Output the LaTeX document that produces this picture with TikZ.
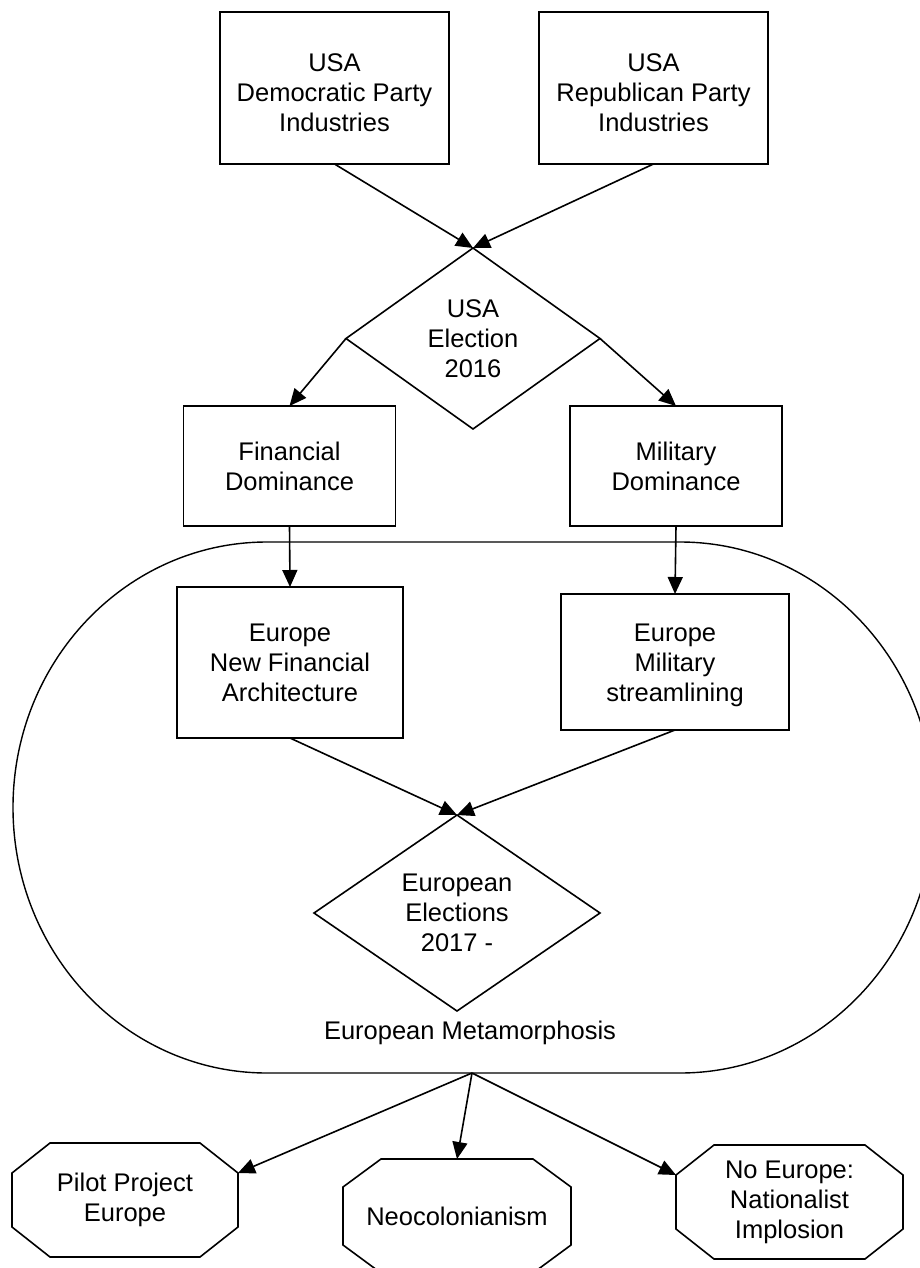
\documentclass[tikz,border=0pt]{standalone}
\usepackage{fontspec}
\setmainfont{Liberation Sans}
\usetikzlibrary{arrows.meta}
\tikzset{
  lbl/.style={font=\fontsize{25.5}{30}\selectfont, align=center},
  boxnode/.style={lbl, draw, line width=1.6pt, inner sep=0pt, outer sep=0pt},
  ghost/.style={lbl, inner sep=0pt, outer sep=0pt},
  shapeline/.style={line width=1.6pt, line join=miter},
  conn/.style={line width=1.6pt, -{Triangle[length=17pt, width=15pt]}},
}
\newcommand{\drawdiam}[1]{\draw[shapeline] (#1.north) -- (#1.east) -- (#1.south) -- (#1.west) -- cycle;}
\newcommand{\drawocta}[2]{\draw[shapeline] ([xshift=38pt]#1.north west) -- ([xshift=-38pt]#1.north east) -- ([yshift=-#2]#1.north east) -- ([yshift=#2]#1.south east) -- ([xshift=-38pt]#1.south east) -- ([xshift=38pt]#1.south west) -- ([yshift=#2]#1.south west) -- ([yshift=-#2]#1.north west) -- cycle;}
\begin{document}
\begin{tikzpicture}[x=1pt, y=-1pt]
\useasboundingbox (0,0) rectangle (920,1268);
\clip (0,0) rectangle (920,1268);
\fill[white] (0,0) rectangle (920,1268);

% big rounded container
\draw[line width=1.4pt] (267,542) -- (680,542)
  .. controls (820.3,542) and (934,660.9) .. (934,807.5)
  .. controls (934,954.1) and (820.3,1073) .. (680,1073)
  -- (267,1073)
  .. controls (126.7,1073) and (13,954.1) .. (13,807.5)
  .. controls (13,660.9) and (126.7,542) .. (267,542) -- cycle;
\coordinate (metabot) at (472,1073);
\node[lbl] (meta) at (470,1033) {European Metamorphosis};

% top boxes
\node[boxnode, minimum width=229, minimum height=152] (dem) at (334.5,88) {\rule{0pt}{28pt}USA\\Democratic Party\\Industries};
\node[boxnode, minimum width=229, minimum height=152] (rep) at (653.5,88) {\rule{0pt}{28pt}USA\\Republican Party\\Industries};

% USA election diamond
\node[ghost, minimum width=254, minimum height=181] (usael) at (473,338.5) {USA\\Election\\2016};
\drawdiam{usael}

% dominance boxes
\node[boxnode, minimum width=212, minimum height=120] (fin) at (289.5,466) {Financial\\Dominance};
\node[boxnode, minimum width=212, minimum height=120] (mil) at (676,466) {Military\\Dominance};

% europe boxes
\node[boxnode, minimum width=226, minimum height=151] (efin) at (290,662.5) {Europe\\New Financial\\Architecture};
\node[boxnode, minimum width=228, minimum height=136] (emil) at (675,662) {\rule{0pt}{24pt}Europe\\Military\\streamlining};

% European elections diamond
\node[ghost, minimum width=286, minimum height=196] (euel) at (457,913) {European\\Elections\\2017 -};
\drawdiam{euel}

% outcome octagons
\node[ghost, minimum width=226, minimum height=114] (pilot) at (125,1200) {Pilot Project\\Europe};
\drawocta{pilot}{30pt}
\node[ghost, minimum width=228, minimum height=114] (neo) at (457,1216) {Neocolonianism};
\drawocta{neo}{28pt}
\node[ghost, minimum width=227, minimum height=114] (noeu) at (789.5,1202) {No Europe:\\Nationalist\\Implosion};
\drawocta{noeu}{30pt}

% connectors
\draw[conn] (dem.south) -- (usael.north);
\draw[conn] (rep.south) -- (usael.north);
\draw[conn] (usael.west) -- (fin.north);
\draw[conn] (usael.east) -- (mil.north);
\draw[conn] (fin.south) -- (efin.north);
\draw[conn] (mil.south) -- (emil.north);
\draw[conn] (efin.south) -- (euel.north);
\draw[conn] (emil.south) -- (euel.north);
\draw[conn] (metabot) -- ([yshift=-30pt]pilot.north east);
\draw[conn] (metabot) -- (neo.north);
\draw[conn] (metabot) -- ([yshift=-30pt]noeu.north west);
\end{tikzpicture}
\end{document}
